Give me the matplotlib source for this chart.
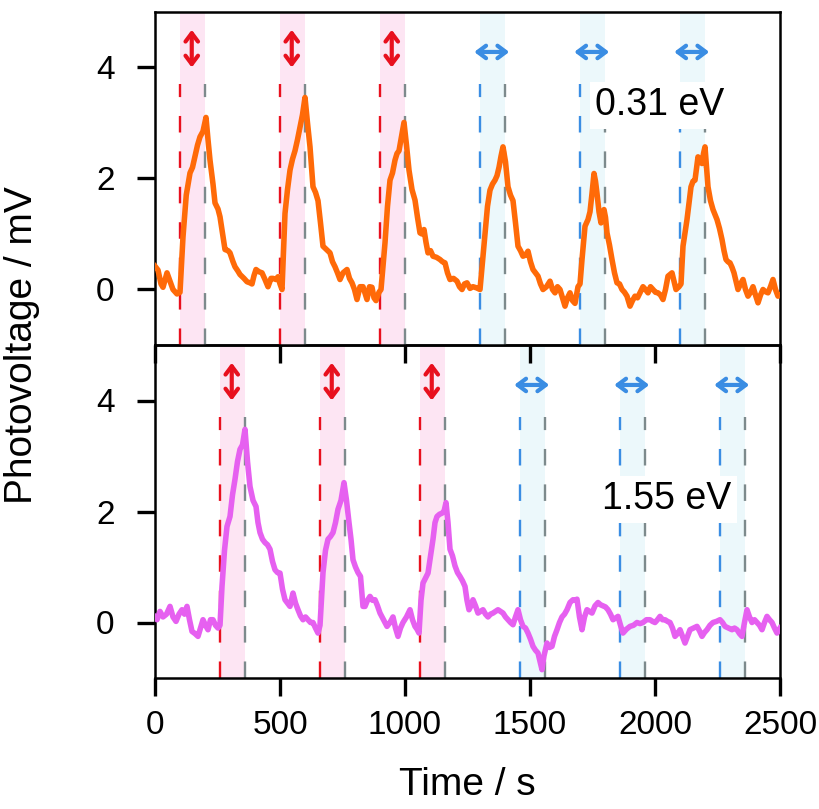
# Photovoltage transients for two excitation energies
import matplotlib.pyplot as plt

plt.rcParams['font.family'] = ['Liberation Sans', 'DejaVu Sans']

# top panel: 0.31 eV (time in s, photovoltage in mV)
t_top = [0, 12, 24, 32, 48, 60, 72, 88, 100, 112, 125, 140, 150, 160, 170, 180, 192, 204, 212, 220,
         232, 240, 252, 260, 272, 280, 292, 300, 312, 320, 332, 340, 356, 368, 380, 388, 396, 404, 416, 428,
         440, 452, 464, 472, 484, 492, 500, 508, 520, 530, 540, 550, 560, 570, 580, 590, 600, 610, 620, 632,
         642, 652, 662, 672, 686, 700, 710, 720, 730, 740, 752, 768, 778, 788, 798, 808, 820, 832, 848, 858,
         868, 876, 884, 896, 904, 920, 930, 940, 950, 960, 968, 976, 986, 996, 1006, 1016, 1028, 1040, 1050, 1060,
         1068, 1076, 1084, 1092, 1102, 1112, 1126, 1140, 1150, 1160, 1170, 1180, 1194, 1208, 1218, 1228, 1238, 1248, 1260, 1272,
         1286, 1300, 1310, 1320, 1330, 1340, 1350, 1360, 1368, 1376, 1384, 1392, 1402, 1412, 1422, 1432, 1442, 1452, 1462, 1472,
         1482, 1492, 1502, 1512, 1522, 1532, 1542, 1552, 1566, 1580, 1590, 1600, 1610, 1620, 1630, 1640, 1650, 1660, 1670, 1680,
         1692, 1700, 1708, 1720, 1732, 1740, 1748, 1756, 1762, 1768, 1776, 1784, 1790, 1796, 1802, 1808, 1818, 1828, 1838, 1848,
         1858, 1868, 1878, 1888, 1900, 1910, 1920, 1930, 1940, 1952, 1962, 1972, 1982, 1992, 2002, 2012, 2022, 2032, 2042, 2052,
         2068, 2076, 2084, 2096, 2104, 2112, 2128, 2144, 2152, 2160, 2172, 2180, 2188, 2194, 2200, 2206, 2212, 2222, 2232, 2240,
         2248, 2258, 2268, 2276, 2284, 2292, 2300, 2308, 2316, 2324, 2332, 2342, 2352, 2362, 2372, 2382, 2392, 2402, 2412, 2422,
         2432, 2442, 2452, 2462, 2472, 2482, 2492, 2500]
v_top = [0.42, 0.35, 0.1, 0.04, 0.3, 0.15, 0.0, -0.08, -0.05, 0.95, 1.7, 2.1, 2.2, 2.4, 2.6, 2.75, 2.85, 3.1, 2.7, 2.33,
         1.9, 1.56, 1.45, 1.31, 0.95, 0.72, 0.7, 0.66, 0.5, 0.41, 0.33, 0.27, 0.2, 0.14, 0.12, 0.1, 0.25, 0.36, 0.32, 0.3,
         0.18, 0.05, 0.2, 0.2, 0.18, 0.23, 0.1, 0.0, 1.37, 1.8, 2.15, 2.35, 2.5, 2.7, 2.93, 3.15, 3.46, 3.0, 2.57, 1.85,
         1.75, 1.6, 1.2, 0.78, 0.72, 0.66, 0.5, 0.41, 0.3, 0.18, 0.3, 0.36, 0.2, 0.12, 0.0, -0.18, 0.05, 0.05, -0.18, 0.05,
         0.04, -0.15, -0.2, -0.05, 0.0, 0.84, 1.5, 1.97, 2.1, 2.33, 2.45, 2.5, 2.75, 3.01, 2.6, 2.15, 1.8, 1.61, 1.3, 1.02,
         1.0, 1.08, 0.85, 0.66, 0.7, 0.6, 0.58, 0.54, 0.5, 0.48, 0.3, 0.18, 0.2, 0.15, 0.05, 0.0, 0.1, 0.12, 0.02, 0.05,
         0.03, 0.0, 0.5, 1.02, 1.5, 1.79, 1.9, 1.97, 2.05, 2.2, 2.4, 2.57, 2.3, 1.85, 1.7, 1.6, 1.2, 0.78, 0.7, 0.6,
         0.62, 0.69, 0.5, 0.36, 0.3, 0.24, 0.1, 0.0, 0.05, 0.15, 0.0, -0.06, 0.05, 0.0, -0.15, -0.3, -0.15, -0.06, -0.2, -0.25,
         0.05, 0.1, 0.54, 1.14, 1.26, 1.4, 1.73, 2.09, 1.95, 1.73, 1.4, 1.2, 1.3, 1.44, 1.3, 1.02, 0.8, 0.54, 0.3, 0.12,
         0.1, 0.0, -0.05, -0.12, -0.3, -0.2, -0.12, -0.15, -0.06, 0.05, 0.0, -0.06, 0.05, 0.0, -0.05, -0.06, -0.1, -0.18, 0.0, 0.24,
         0.3, 0.15, 0.0, 0.05, 0.1, 0.78, 1.26, 1.85, 1.95, 1.97, 2.39, 2.3, 2.27, 2.45, 2.57, 2.2, 1.85, 1.6, 1.44, 1.35,
         1.26, 1.1, 0.9, 0.7, 0.54, 0.5, 0.48, 0.4, 0.3, 0.15, 0.0, 0.1, 0.18, 0.0, -0.12, -0.05, 0.05, -0.1, -0.24, -0.1,
         0.0, -0.04, -0.06, 0.05, 0.18, 0.0, -0.12, -0.1]

# bottom panel: 1.55 eV
t_bot = [0, 8, 20, 32, 46, 60, 72, 84, 96, 108, 118, 128, 138, 148, 160, 172, 182, 192, 202, 212,
         222, 232, 242, 252, 260, 268, 278, 288, 300, 310, 320, 330, 340, 350, 360, 370, 380, 392, 404, 412,
         420, 430, 440, 450, 460, 470, 480, 490, 500, 510, 520, 530, 540, 552, 562, 572, 582, 592, 602, 612,
         622, 632, 642, 652, 660, 672, 682, 692, 702, 712, 722, 732, 744, 756, 766, 776, 784, 792, 802, 812,
         822, 832, 840, 850, 860, 870, 880, 890, 900, 914, 928, 940, 952, 962, 972, 982, 992, 1006, 1020, 1030,
         1040, 1048, 1056, 1064, 1072, 1082, 1092, 1102, 1112, 1120, 1128, 1138, 1148, 1156, 1164, 1172, 1180, 1190, 1200, 1210,
         1220, 1230, 1240, 1248, 1256, 1264, 1272, 1282, 1292, 1302, 1312, 1322, 1332, 1342, 1352, 1362, 1372, 1382, 1392, 1402,
         1412, 1422, 1432, 1442, 1452, 1462, 1472, 1482, 1492, 1502, 1512, 1522, 1532, 1540, 1548, 1556, 1568, 1578, 1588, 1598,
         1608, 1618, 1628, 1638, 1648, 1660, 1672, 1680, 1688, 1698, 1708, 1718, 1728, 1738, 1748, 1760, 1772, 1782, 1792, 1802,
         1812, 1822, 1832, 1842, 1852, 1862, 1872, 1886, 1900, 1914, 1928, 1940, 1952, 1966, 1980, 1990, 2000, 2010, 2020, 2030,
         2040, 2050, 2060, 2070, 2080, 2090, 2100, 2110, 2120, 2130, 2140, 2154, 2168, 2178, 2188, 2198, 2208, 2220, 2232, 2246,
         2260, 2270, 2280, 2294, 2308, 2318, 2328, 2338, 2348, 2358, 2368, 2378, 2388, 2398, 2408, 2418, 2428, 2438, 2448, 2458,
         2468, 2478, 2488, 2500]
v_bot = [0.1, 0.05, 0.2, 0.1, 0.15, 0.29, 0.1, 0.02, 0.15, 0.23, 0.15, 0.29, 0.05, -0.16, -0.2, -0.25, -0.1, 0.05, -0.05, -0.13,
         0.05, 0.05, -0.05, -0.1, -0.05, 0.65, 1.3, 1.73, 1.91, 2.3, 2.58, 2.9, 3.12, 3.2, 3.48, 2.9, 2.45, 2.2, 2.09, 1.8,
         1.62, 1.5, 1.44, 1.4, 1.32, 1.1, 0.95, 0.9, 0.89, 0.6, 0.41, 0.35, 0.29, 0.53, 0.35, 0.23, 0.12, 0.05, 0.1, 0.05,
         0.0, 0.0, -0.1, -0.19, -0.05, 0.9, 1.3, 1.5, 1.55, 1.62, 1.8, 2.04, 2.2, 2.52, 2.2, 1.8, 1.5, 1.13, 1.0, 0.9,
         0.83, 0.29, 0.29, 0.4, 0.47, 0.4, 0.41, 0.3, 0.17, 0.05, -0.07, 0.0, 0.1, -0.1, -0.25, -0.1, 0.0, 0.1, 0.23, 0.05,
         -0.07, -0.12, -0.19, 0.4, 0.71, 0.8, 0.89, 1.2, 1.5, 1.8, 1.91, 1.95, 1.97, 2.0, 2.16, 1.8, 1.32, 1.2, 1.02, 0.9,
         0.83, 0.75, 0.65, 0.4, 0.23, 0.3, 0.41, 0.3, 0.17, 0.2, 0.23, 0.15, 0.1, 0.15, 0.17, 0.2, 0.23, 0.2, 0.17, 0.1,
         0.05, 0.0, -0.04, 0.1, 0.23, 0.05, -0.07, -0.1, -0.19, -0.3, -0.43, -0.5, -0.55, -0.7, -0.85, -0.6, -0.37, -0.45, -0.43, -0.25,
         -0.13, 0.0, 0.1, 0.15, 0.23, 0.36, 0.41, 0.4, 0.42, 0.1, -0.13, 0.1, 0.23, 0.2, 0.17, 0.3, 0.36, 0.32, 0.3, 0.28,
         0.23, 0.15, 0.05, 0.08, 0.11, -0.05, -0.19, -0.12, -0.07, -0.05, 0.0, -0.02, 0.0, 0.05, 0.05, 0.02, 0.0, 0.05, 0.11, 0.05,
         0.05, 0.02, 0.0, -0.1, -0.25, -0.2, -0.13, -0.25, -0.37, -0.25, -0.13, -0.1, -0.07, -0.15, -0.25, -0.18, -0.13, -0.05, 0.0, 0.02,
         0.05, 0.0, -0.07, -0.1, -0.13, -0.1, -0.13, -0.2, -0.25, 0.0, 0.23, 0.1, 0.0, 0.05, 0.0, -0.05, -0.13, 0.0, 0.11, 0.05,
         0.0, -0.1, -0.19, -0.1]

# illumination windows: (on, off, kind) kind 'v' = vertical polarisation, 'h' = horizontal
windows_top = [(100, 200, 'v'), (500, 600, 'v'), (900, 1000, 'v'),
               (1300, 1400, 'h'), (1700, 1800, 'h'), (2100, 2200, 'h')]
windows_bot = [(260, 360, 'v'), (660, 760, 'v'), (1060, 1160, 'v'),
               (1460, 1560, 'h'), (1860, 1960, 'h'), (2260, 2360, 'h')]

red = '#e8101e'
blue = '#3a8de3'
gray = '#7d8a8c'
shade = {'v': '#fde5f3', 'h': '#ecf8fb'}
edge = {'v': red, 'h': blue}


def draw_panel(ax, t, v, windows, color, label, label_pos):
    for on, off, kind in windows:
        ax.axvspan(on, off, color=shade[kind], lw=0, zorder=0)
        ax.plot([on, on], [-1, 3.7], color=edge[kind], lw=1.7, ls=(0, (7, 8)), zorder=2)
        ax.plot([off, off], [-1, 3.7], color=gray, lw=1.7, ls=(0, (7, 8)), zorder=2)
        mid = on + 47
        style = '<->,head_length=0.6,head_width=0.45'
        if kind == 'v':
            ax.annotate('', xy=(mid, 4.68), xytext=(mid, 4.0),
                        arrowprops=dict(arrowstyle=style, color=red, lw=3.0,
                                        shrinkA=0, shrinkB=0))
        else:
            ax.annotate('', xy=(mid - 70, 4.28), xytext=(mid + 70, 4.28),
                        arrowprops=dict(arrowstyle=style, color=blue, lw=3.0,
                                        shrinkA=0, shrinkB=0))
    ax.text(label_pos[0], label_pos[1], label, fontsize=27, ha='center', va='center', zorder=3,
            bbox=dict(facecolor='white', edgecolor='none', pad=4))
    ax.plot(t, v, color=color, lw=4.0, zorder=4)
    ax.set_xlim(0, 2500)
    ax.set_ylim(-1, 5)
    ax.set_yticks([0, 2, 4])
    ax.set_xticks([0, 500, 1000, 1500, 2000, 2500])
    ax.tick_params(direction='out', length=13, width=2.4, labelsize=24, pad=10)
    ax.tick_params(axis='y', pad=16)
    for s in ax.spines.values():
        s.set_linewidth(1.8)


fig = plt.figure(figsize=(8.19, 8.09), dpi=100)
ax1 = fig.add_axes([155 / 819, 1 - 345 / 809, 625 / 819, 333 / 809])
ax2 = fig.add_axes([155 / 819, 1 - 678 / 809, 625 / 819, 333 / 809])

draw_panel(ax1, t_top, v_top, windows_top, '#ff6a08', '0.31 eV', (2020, 3.32))
draw_panel(ax2, t_bot, v_bot, windows_bot, '#e660f0', '1.55 eV', (2045, 2.22))
ax1.tick_params(labelbottom=False)
ax1.set_zorder(3)
ax1.patch.set_visible(False)

fig.text(0.027, 1 - 345 / 809, 'Photovoltage / mV', rotation=90, fontsize=28, ha='center', va='center')
fig.text(467 / 819, 1 - 785 / 809, 'Time / s', fontsize=28, ha='center', va='center')

plt.savefig('out.png', dpi=100)
plt.clf()
